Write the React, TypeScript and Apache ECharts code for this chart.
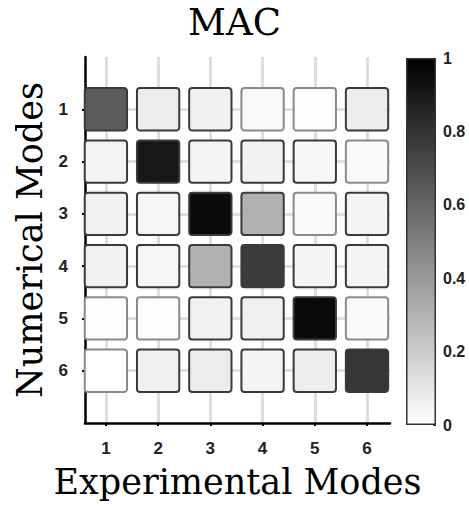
import React, { useEffect, useRef } from "react";
import * as echarts from "echarts";

const experimentalModes = [1, 2, 3, 4, 5, 6];
const numericalModes = [1, 2, 3, 4, 5, 6];
// MAC values: rows = numerical modes, columns = experimental modes
const macRow1 = [0.64, 0.075, 0.06, 0.025, 0.005, 0.075];
const macRow2 = [0.045, 0.91, 0.04, 0.05, 0.03, 0.02];
const macRow3 = [0.055, 0.035, 0.96, 0.305, 0.02, 0.04];
const macRow4 = [0.055, 0.035, 0.305, 0.77, 0.04, 0.04];
const macRow5 = [0.005, 0.005, 0.055, 0.06, 0.96, 0.02];
const macRow6 = [0.0, 0.06, 0.075, 0.04, 0.07, 0.79];
const macRows = [macRow1, macRow2, macRow3, macRow4, macRow5, macRow6];
const colorbarTicks = [0, 0.2, 0.4, 0.6, 0.8, 1];

export default function App() {
  const ref = useRef<HTMLDivElement>(null);
  useEffect(() => {
    if (!ref.current) return;
    const chart = echarts.init(ref.current, null, { renderer: "svg" });
    const data: number[][] = [];
    macRows.forEach((row, ri) => {
      row.forEach((v, ci) => {
        data.push([experimentalModes[ci], numericalModes[ri], v]);
      });
    });
    const serif = "DejaVu Serif";
    const sans = "Liberation Sans";
    chart.setOption({
      animation: false,
      backgroundColor: "#ffffff",
      title: {
        text: "MAC",
        left: "center",
        top: 4,
        padding: 0,
        textStyle: { fontFamily: serif, fontSize: 37, fontWeight: "normal", color: "#000" },
      },
      grid: [
        { left: 85, top: 57, right: 79, bottom: 85, containLabel: false },
        { left: 406, top: 58, width: 30, height: 367 },
      ],
      xAxis: [
        {
          type: "value",
          gridIndex: 0,
          position: "bottom",
          min: 0.6,
          max: 6.44,
          name: "Experimental Modes",
          nameLocation: "middle",
          nameGap: 41,
          nameTextStyle: { fontFamily: serif, fontSize: 35, color: "#000" },
          axisLine: { show: true, onZero: false, lineStyle: { color: "#000", width: 2.5 } },
          axisTick: { show: true, customValues: experimentalModes, length: 3, lineStyle: { color: "#000", width: 2 } },
          axisLabel: {
            customValues: experimentalModes,
            fontFamily: sans,
            fontWeight: "bold",
            fontSize: 17,
            color: "#222",
            margin: 17,
          },
          splitLine: { show: true, lineStyle: { color: "#dedede", width: 3 } },
        },
        {
          type: "category",
          gridIndex: 1,
          data: ["c"],
          show: false,
        },
      ],
      yAxis: [
        {
          type: "value",
          gridIndex: 0,
          position: "left",
          min: 0,
          max: 7,
          inverse: true,
          name: "Numerical Modes",
          nameLocation: "middle",
          nameGap: 21,
          nameTextStyle: { fontFamily: serif, fontSize: 35, color: "#000" },
          axisLine: { show: true, onZero: false, lineStyle: { color: "#000", width: 2.5 } },
          axisTick: { show: true, customValues: numericalModes, length: 3, lineStyle: { color: "#000", width: 2 } },
          axisLabel: {
            customValues: numericalModes,
            fontFamily: sans,
            fontWeight: "bold",
            fontSize: 17,
            color: "#222",
            margin: 17,
          },
          splitLine: { show: true, lineStyle: { color: "#dedede", width: 3 } },
        },
        {
          type: "value",
          gridIndex: 1,
          min: 0,
          max: 1,
          interval: 0.2,
          position: "right",
          axisLine: { show: false },
          axisTick: { show: true, inside: true, length: 3, lineStyle: { color: "#333", width: 1 } },
          axisLabel: {
            fontFamily: sans,
            fontWeight: "bold",
            fontSize: 16,
            color: "#222",
            margin: 7,
            formatter: (v: number) => (colorbarTicks.includes(Math.round(v * 10) / 10) ? String(Math.round(v * 10) / 10) : ""),
          },
          splitLine: { show: false },
        },
      ],
      visualMap: {
        show: false,
        type: "continuous",
        min: 0,
        max: 1,
        dimension: 2,
        seriesIndex: 0,
        inRange: { color: ["#ffffff", "#000000"] },
      },
      series: [
        {
          type: "custom",
          xAxisIndex: 0,
          yAxisIndex: 0,
          data,
          encode: { x: 0, y: 1 },
          renderItem: (params: any, api: any) => {
            const c = api.coord([api.value(0), api.value(1)]);
            const s = api.size([0.81, 0.81]);
            const w = Math.abs(s[0]);
            const h = Math.abs(s[1]);
            const v = api.value(2);
            return {
              type: "rect",
              shape: { x: c[0] - w / 2, y: c[1] - h / 2, width: w, height: h, r: 3 },
              style: {
                fill: api.visual("color"),
                stroke: v < 0.03 ? "#8a8a8a" : "#3a3a3a",
                lineWidth: 2,
              },
            };
          },
        },
        {
          type: "bar",
          xAxisIndex: 1,
          yAxisIndex: 1,
          data: [1],
          barWidth: "100%",
          silent: true,
          itemStyle: {
            color: new echarts.graphic.LinearGradient(0, 0, 0, 1, [
              { offset: 0, color: "#000000" },
              { offset: 1, color: "#ffffff" },
            ]),
            borderColor: "#333",
            borderWidth: 1.5,
          },
        },
      ],
    });
    return () => chart.dispose();
  }, []);
  return <div ref={ref} style={{ width: 469, height: 508, position: "absolute", left: 0, top: 0 }} />;
}
